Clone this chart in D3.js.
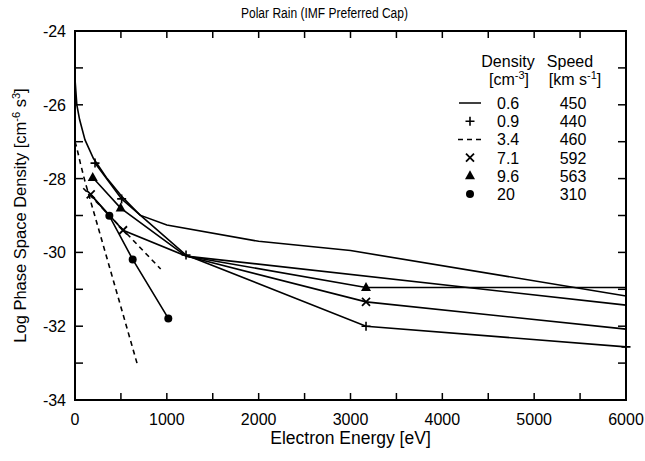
<!DOCTYPE html>
<html><head><meta charset="utf-8">
<script src="https://cdn.jsdelivr.net/npm/d3@7"></script>
<style>
body{margin:0;background:#fff;}
text{font-family:"Liberation Sans",Arial,Helvetica,sans-serif;fill:#000;}
</style></head>
<body><svg id="c" width="645" height="461"></svg>
<script>
// ---- data ----
const xTicksMajor = [0,1000,2000,3000,4000,5000,6000];
const yTicksMajor = [-24,-26,-28,-30,-32,-34];
const solid06 = [[0,-25.3],[20,-26.0],[50,-26.4],[109,-26.95],[200,-27.45],[350,-28.0],[508,-28.48],[708,-28.99],[1000,-29.26],[2000,-29.7],[3000,-29.95],[6000,-31.18]];
const extraSolid = [[1209,-30.1],[6000,-31.43]];
const plus09 = [[218,-27.58],[508,-28.55],[1209,-30.07],[3169,-32.0],[6000,-32.56]];
const dash34 = [[0,-27.0],[20,-27.17],[60,-27.6],[109,-28.08],[675,-33.0]];
const dash34b = [[90,-28.26],[933,-30.45]];
const cross71 = [[171,-28.43],[523,-29.4],[1209,-30.1],[3169,-31.34],[6000,-32.08]];
const tri96 = [[193,-27.97],[497,-28.8],[1209,-30.1],[3169,-30.95],[6000,-30.95]];
const dot20 = [[171,-28.43],[374,-29.01],[628,-30.19],[1016,-31.79]];
const legendDensity = ["0.6","0.9","3.4","7.1","9.6","20"];
const legendSpeed = ["450","440","460","592","563","310"];
const legendSym = ["line","plus","dash","cross","tri","dot"];

// ---- layout ----
const svg = d3.select("#c");
const L=75,R=626,T=31,B=400;
const FS=16;
const x = d3.scaleLinear().domain([0,6000]).range([L,R]);
const y = d3.scaleLinear().domain([-34,-24]).range([B,T]);
const line = d3.line().x(d=>x(d[0])).y(d=>y(d[1]));

// frame
svg.append("rect").attr("x",L).attr("y",T).attr("width",R-L).attr("height",B-T)
  .attr("fill","none").attr("stroke","#000").attr("stroke-width",2);

// ticks inward
const xt = d3.range(0,6001,500), yt = d3.range(-34,-23,1);
const g = svg.append("g").attr("stroke","#000").attr("stroke-width",1.5);
xt.forEach(v=>{ if(v>0&&v<6000){
  g.append("line").attr("x1",x(v)).attr("x2",x(v)).attr("y1",B).attr("y2",B-7);
  g.append("line").attr("x1",x(v)).attr("x2",x(v)).attr("y1",T).attr("y2",T+7);}});
yt.forEach(v=>{ if(v>-34&&v<-24){
  g.append("line").attr("y1",y(v)).attr("y2",y(v)).attr("x1",L).attr("x2",L+8);
  g.append("line").attr("y1",y(v)).attr("y2",y(v)).attr("x1",R).attr("x2",R-8);}});

// tick labels
xTicksMajor.forEach(v=>svg.append("text").attr("x",x(v)).attr("y",B+25)
  .attr("text-anchor","middle").attr("font-size",FS).text(v));
yTicksMajor.forEach(v=>svg.append("text").attr("x",L-9).attr("y",y(v)+6)
  .attr("text-anchor","end").attr("font-size",FS).text(v));

// titles
svg.append("text").attr("x",241).attr("y",18)
  .attr("font-size",14).attr("textLength",167).attr("lengthAdjust","spacingAndGlyphs")
  .text("Polar Rain (IMF Preferred Cap)");
svg.append("text").attr("x",(L+R)/2).attr("y",444).attr("text-anchor","middle")
  .attr("font-size",17.5).text("Electron Energy [eV]");
const yl = svg.append("text").attr("transform",`translate(26,${(T+B)/2}) rotate(-90)`)
  .attr("text-anchor","middle").attr("font-size",16.5);
yl.append("tspan").text("Log Phase Space Density [cm");
yl.append("tspan").attr("dy",-6).attr("font-size",11).text("-6");
yl.append("tspan").attr("dy",6).text(" s");
yl.append("tspan").attr("dy",-6).attr("font-size",11).text("3");
yl.append("tspan").attr("dy",6).text("]");

// lines
const lines = svg.append("g").attr("fill","none").attr("stroke","#000").attr("stroke-width",1.6);
[solid06,extraSolid,plus09,cross71,tri96,dot20].forEach(s=>lines.append("path").attr("d",line(s)));
[dash34,dash34b].forEach(s=>lines.append("path").attr("d",line(s)).attr("stroke-dasharray","5,4"));

// markers
function marker(sel,type,cx,cy){
  if(type==="plus"){
    sel.append("path").attr("d",`M${cx-4.5},${cy}H${cx+4.5}M${cx},${cy-4.5}V${cy+4.5}`)
      .attr("stroke","#000").attr("stroke-width",1.6).attr("fill","none");
  } else if(type==="cross"){
    sel.append("path").attr("d",`M${cx-4},${cy-4}L${cx+4},${cy+4}M${cx-4},${cy+4}L${cx+4},${cy-4}`)
      .attr("stroke","#000").attr("stroke-width",1.8).attr("fill","none");
  } else if(type==="tri"){
    sel.append("path").attr("d",`M${cx},${cy-5.5}L${cx+5},${cy+3.5}L${cx-5},${cy+3.5}Z`).attr("fill","#000");
  } else if(type==="dot"){
    sel.append("circle").attr("cx",cx).attr("cy",cy).attr("r",4).attr("fill","#000");
  } else if(type==="line"){
    sel.append("line").attr("x1",cx-11).attr("x2",cx+11).attr("y1",cy).attr("y2",cy)
      .attr("stroke","#000").attr("stroke-width",1.5);
  } else if(type==="dash"){
    sel.append("line").attr("x1",cx-12).attr("x2",cx+12).attr("y1",cy).attr("y2",cy)
      .attr("stroke","#000").attr("stroke-width",1.5).attr("stroke-dasharray","5,4");
  }
}
const mk = svg.append("g");
plus09.forEach(d=>marker(mk,"plus",x(d[0]),y(d[1])));
cross71.slice(0,2).concat(cross71.slice(3,4)).forEach(d=>marker(mk,"cross",x(d[0]),y(d[1])));
tri96.slice(0,2).concat(tri96.slice(3,4)).forEach(d=>marker(mk,"tri",x(d[0]),y(d[1])));
dot20.slice(1).forEach(d=>marker(mk,"dot",x(d[0]),y(d[1])));

// legend
const lg = svg.append("g");
lg.append("text").attr("x",508).attr("y",67).attr("text-anchor","middle").attr("font-size",FS).text("Density");
lg.append("text").attr("x",570).attr("y",67).attr("text-anchor","middle").attr("font-size",FS).text("Speed");
const u1 = lg.append("text").attr("x",509).attr("y",85).attr("text-anchor","middle").attr("font-size",FS);
u1.append("tspan").text("[cm");
u1.append("tspan").attr("dy",-6).attr("font-size",11).text("-3");
u1.append("tspan").attr("dy",6).text("]");
const u2 = lg.append("text").attr("x",575).attr("y",85).attr("text-anchor","middle").attr("font-size",FS);
u2.append("tspan").text("[km s");
u2.append("tspan").attr("dy",-6).attr("font-size",11).text("-1");
u2.append("tspan").attr("dy",6).text("]");
legendDensity.forEach((d,i)=>{
  const cy = 103 + i*18.2;
  marker(lg,legendSym[i],470,cy);
  lg.append("text").attr("x",497).attr("y",cy+6).attr("font-size",FS).text(d);
  lg.append("text").attr("x",573).attr("y",cy+6).attr("text-anchor","middle").attr("font-size",FS).text(legendSpeed[i]);
});
</script></body></html>
